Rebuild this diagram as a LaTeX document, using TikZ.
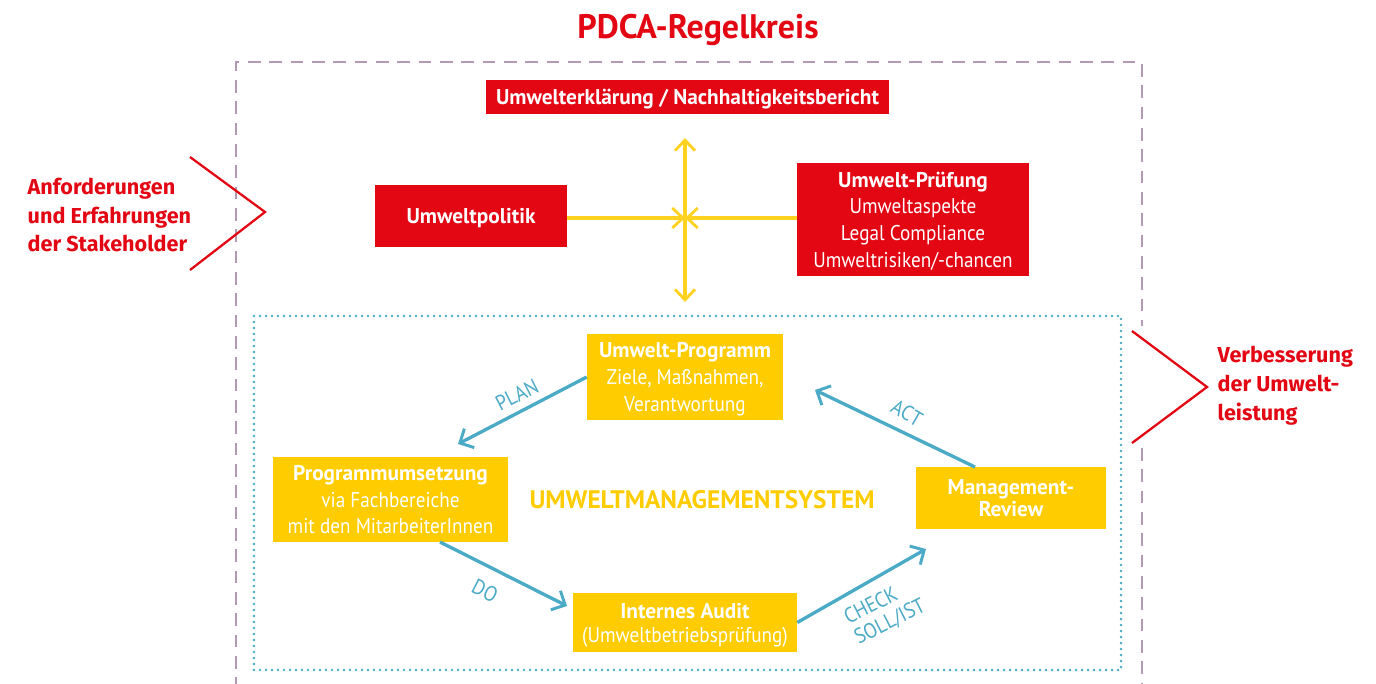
\documentclass[tikz,border=0pt]{standalone}
\usepackage{fontspec}
\setmainfont{PT Sans}
\newfontfamily\condr[FakeStretch=0.9]{PT Sans}
\newfontfamily\condb[FakeStretch=1.0]{PT Sans}
\newfontfamily\slab{Fira Sans}
\newcommand{\boldtxt}[1]{{\condb\bfseries #1}}
\usetikzlibrary{arrows.meta}
\definecolor{rred}{HTML}{E30613}
\definecolor{ryel}{HTML}{FFCC00}
\definecolor{xyel}{HTML}{FFD21F}
\definecolor{bblue}{HTML}{4BABC6}
\definecolor{ppur}{HTML}{B39AB4}
\tikzset{
  redbox/.style={fill=rred, text=white, inner sep=0pt, align=center, text depth=0pt, font=\condr\fontsize{16}{20}\selectfont},
  yelbox/.style={fill=ryel, text=white, inner sep=0pt, align=center, text depth=0pt, font=\condr\fontsize{16}{20}\selectfont},
  cross/.style={draw=xyel, line width=2.3pt, -{Straight Barb[length=8pt,width=15pt,line width=2.1pt]}},
  cycle/.style={draw=bblue, line width=2.5pt, -{Straight Barb[length=8pt,width=16pt,line width=2.2pt]}},
  cyclab/.style={text=bblue, font=\condr\fontsize{16}{17}\selectfont, align=center},
  chev/.style={draw=rred, line width=1.7pt},
  sidetext/.style={text=rred, align=left, font=\slab\bfseries\fontsize{16.2}{21.7}\selectfont, anchor=west},
}
\begin{document}
\begin{tikzpicture}[x=0.75pt,y=-0.75pt]
\useasboundingbox[fill=white] (0,0) rectangle (1376,683);
% title
\node[text=rred, font=\condb\bfseries\fontsize{25.5}{28}\selectfont] (title) at (698,30) {PDCA-Regelkreis};
% outer dashed frame
\draw[ppur, line width=2.2pt, dash pattern=on 9.5pt off 6.5pt] (236,690) -- (236,62) -- (1142,62) -- (1142,326);
\draw[ppur, line width=2.2pt, dash pattern=on 9.5pt off 6.5pt] (1142,448) -- (1142,690);
% blue dotted frame
\draw[bblue, line width=2.2pt, line cap=round, dash pattern=on 0pt off 4.5pt] (254,316) rectangle (1121,670);
% red boxes
\node[redbox, minimum width=403*0.75pt, minimum height=34*0.75pt, font=\condb\bfseries\fontsize{16}{20}\selectfont] (bericht) at (687.5,96.5) {Umwelterklärung / Nachhaltigkeitsbericht};
\node[redbox, minimum width=192*0.75pt, minimum height=62*0.75pt, font=\condb\bfseries\fontsize{16}{20}\selectfont] (politik) at (471,216) {Umweltpolitik};
\node[redbox, minimum width=232*0.75pt, minimum height=113*0.75pt] (pruef) at (913,219.5) {\boldtxt{Umwelt-Prüfung}\\Umweltaspekte\\Legal Compliance\\Umweltrisiken/-chancen};
% cross
\coordinate (X) at (685,218);
\coordinate (Xt) at (685,138);
\coordinate (Xb) at (685,302);
\draw[cross] (X) -- (Xt);
\draw[cross] (X) -- (Xb);
\draw[cross] (politik.east |- X) -- (X);
\draw[cross] (pruef.west |- X) -- (X);
% chevrons
\coordinate (L1) at (190,157); \coordinate (L2) at (265,212); \coordinate (L3) at (190,270);
\draw[chev] (L1) -- (L2) -- (L3);
\coordinate (R1) at (1132,331); \coordinate (R2) at (1207,387); \coordinate (R3) at (1132,443);
\draw[chev] (R1) -- (R2) -- (R3);
\node[sidetext] (stake) at (23,215) {Anforderungen\\und Erfahrungen\\der Stakeholder};
\node[sidetext] (verb) at (1213,386) {Verbesserung\\der Umwelt-\\leistung};
% yellow boxes
\node[yelbox, minimum width=196*0.75pt, minimum height=86*0.75pt] (prog) at (685,377) {\boldtxt{Umwelt-Programm}\\Ziele, Maßnahmen,\\Verantwortung};
\node[yelbox, minimum width=235*0.75pt, minimum height=85*0.75pt] (umset) at (390.5,499.5) {\boldtxt{Programmumsetzung}\\via Fachbereiche\\mit den MitarbeiterInnen};
\node[yelbox, minimum width=224*0.75pt, minimum height=59*0.75pt, font=\condr\fontsize{16}{18}\selectfont] (audit) at (685,622.5) {\boldtxt{Internes Audit}\\(Umweltbetriebsprüfung)};
\node[yelbox, minimum width=190*0.75pt, minimum height=62*0.75pt, font=\condb\bfseries\fontsize{16}{16}\selectfont] (review) at (1011,498) {Management-\\Review};
\node[text=ryel, font=\condb\bfseries\fontsize{19}{22}\selectfont] (ums) at (702,500) {UMWELTMANAGEMENTSYSTEM};
% cycle arrows
\coordinate (planEnd) at (458,444);
\coordinate (doStart) at (440,542);
\coordinate (doEnd) at (567,606);
\coordinate (checkEnd) at (926,549);
\coordinate (actStart) at (975,467);
\coordinate (actEnd) at (815,390);
\draw[cycle] (prog.west) -- (planEnd);
\draw[cycle] (doStart) -- (doEnd);
\draw[cycle] (audit.east) -- (checkEnd);
\draw[cycle] (actStart) -- (actEnd);
\node[cyclab, rotate=27] (plan) at (517,395) {PLAN};
\node[cyclab, rotate=-27] (do) at (485,591) {DO};
\node[cyclab, rotate=27, align=left] (check) at (885,612) {CHECK\\SOLL/IST};
\node[cyclab, rotate=-30] (act) at (907,413) {ACT};
\end{tikzpicture}
\end{document}
